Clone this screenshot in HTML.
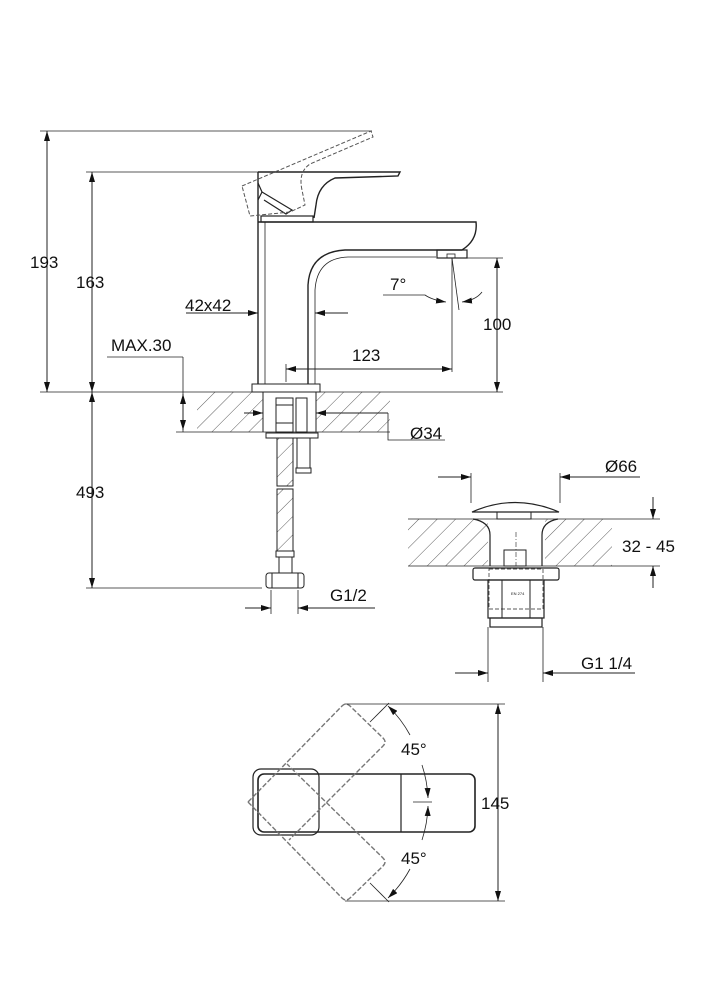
<!DOCTYPE html>
<html><head><meta charset="utf-8"><style>
html,body{margin:0;padding:0;background:#fff;}
svg{display:block;}
text{font-family:"Liberation Sans",sans-serif;font-size:17px;fill:#111;}
</style></head><body>
<svg width="708" height="1000" viewBox="0 0 708 1000" xmlns="http://www.w3.org/2000/svg">
<defs>
<pattern id="h" width="13" height="13" patternUnits="userSpaceOnUse" patternTransform="rotate(45)">
<line x1="0" y1="0" x2="0" y2="13" stroke="#333" stroke-width="0.8"/>
</pattern>
<marker id="a" viewBox="0 0 10 6" refX="10" refY="3" markerWidth="10" markerHeight="6" orient="auto-start-reverse" markerUnits="userSpaceOnUse">
<path d="M0,0 L10,3 L0,6 z" fill="#111"/>
</marker>
</defs>
<g fill="none" stroke="#222" stroke-width="1">
<line x1="40" y1="131" x2="372" y2="131" stroke-width="0.8"/>
<line x1="47" y1="131" x2="47" y2="392" marker-start="url(#a)" marker-end="url(#a)"/>
<line x1="86" y1="172" x2="258" y2="172" stroke-width="0.8"/>
<line x1="92" y1="172" x2="92" y2="392" marker-start="url(#a)" marker-end="url(#a)"/>
<rect x="197" y="392" width="66" height="40" fill="url(#h)" stroke="none"/>
<rect x="316" y="392" width="74" height="40" fill="url(#h)" stroke="none"/>
<line x1="40" y1="392" x2="503" y2="392" stroke-width="0.8"/>
<line x1="176" y1="432" x2="390" y2="432" stroke-width="0.8"/>
<line x1="263" y1="392" x2="263" y2="432"/>
<line x1="316" y1="392" x2="316" y2="432"/>
<rect x="252" y="384" width="68" height="8"/>
<line x1="258" y1="222" x2="258" y2="384" stroke-width="1.4"/>
<line x1="265" y1="222" x2="265" y2="384" stroke-width="0.8"/>
<path d="M258,222 L476,222 Q478,240 462,250 L345,250 Q310,252 308,285 L308,384" stroke-width="1.4"/>
<path d="M315,384 L315,290 Q317,258 348,257 L436,257" stroke-width="0.8"/>
<rect x="437" y="250" width="30" height="8" stroke-width="1.2"/>
<rect x="447" y="254" width="8" height="4" stroke-width="0.8"/>
<path d="M258,172 L258,222 M258,172 L400,172 L398,176 L335,178 Q318,185 316,205 L314,218" stroke-width="1.4"/>
<rect x="261" y="216" width="52" height="6" stroke-width="1.2"/>
<path d="M258,183 L262,192 L258,200 M262,192 L292,210 L286,214 L264,200" stroke-width="1.2"/>
<path d="M242,186 L371,131 L373,137 L310,164 Q298,172 302,190 L305,205 L290,212 L250,216 Z" stroke-dasharray="4,2" stroke="#555"/>
<line x1="452" y1="258" x2="452" y2="372" stroke-width="0.8"/>
<line x1="452" y1="258" x2="459" y2="310" stroke-width="0.8"/>
<path d="M383,295 L425,295 Q432,300 446,302" stroke-width="0.8" marker-end="url(#a)"/>
<path d="M482,292 Q476,300 462,302" stroke-width="0.8" marker-end="url(#a)"/>
<line x1="455" y1="258" x2="503" y2="258" stroke-width="0.8"/>
<line x1="497" y1="258" x2="497" y2="392" marker-start="url(#a)" marker-end="url(#a)"/>
<line x1="186" y1="313" x2="258" y2="313" marker-end="url(#a)"/>
<line x1="348" y1="313" x2="315" y2="313" marker-end="url(#a)"/>
<line x1="286" y1="364" x2="286" y2="382" stroke-width="0.8"/>
<line x1="286" y1="369" x2="452" y2="369" marker-start="url(#a)" marker-end="url(#a)"/>
<line x1="107" y1="357" x2="183" y2="357" stroke-width="0.8"/>
<line x1="183" y1="357" x2="183" y2="432" stroke-width="0.8"/>
<line x1="183" y1="394" x2="183" y2="430" marker-start="url(#a)" marker-end="url(#a)"/>
<line x1="244" y1="413" x2="263" y2="413" marker-end="url(#a)"/>
<line x1="388" y1="413" x2="316" y2="413" marker-end="url(#a)"/>
<path d="M388,413 L388,440 L445,440" stroke-width="0.8"/>
<rect x="276" y="398" width="17" height="34" stroke-width="1"/>
<line x1="276" y1="405" x2="293" y2="405"/><line x1="276" y1="423" x2="293" y2="423"/>
<rect x="296" y="398" width="11" height="34"/>
<rect x="266" y="433" width="52" height="5"/>
<rect x="277" y="438" width="16" height="48" fill="url(#h)"/>
<rect x="277" y="489" width="16" height="62" fill="url(#h)"/>
<rect x="297" y="438" width="13" height="30"/>
<rect x="296" y="468" width="15" height="5"/>
<rect x="276" y="551" width="18" height="6"/>
<rect x="279" y="557" width="13" height="16"/>
<rect x="266" y="573" width="38" height="15" rx="3"/>
<line x1="272" y1="573" x2="272" y2="588"/><line x1="298" y1="573" x2="298" y2="588"/>
<line x1="86" y1="588" x2="262" y2="588" stroke-width="0.8"/>
<line x1="92" y1="392" x2="92" y2="588" marker-start="url(#a)" marker-end="url(#a)"/>
<line x1="271" y1="590" x2="271" y2="614" stroke-width="0.8"/>
<line x1="298" y1="590" x2="298" y2="614" stroke-width="0.8"/>
<line x1="245" y1="608" x2="271" y2="608" marker-end="url(#a)"/>
<line x1="375" y1="608" x2="298" y2="608" marker-end="url(#a)"/>
<rect x="408" y="519" width="80" height="47" fill="url(#h)" stroke="none"/>
<rect x="545" y="519" width="67" height="47" fill="url(#h)" stroke="none"/>
<line x1="408" y1="519" x2="660" y2="519" stroke-width="0.8"/>
<line x1="408" y1="566" x2="660" y2="566" stroke-width="0.8"/>
<line x1="471" y1="473" x2="471" y2="503" stroke-width="0.8"/>
<line x1="560" y1="473" x2="560" y2="503" stroke-width="0.8"/>
<line x1="438" y1="477" x2="471" y2="477" marker-end="url(#a)"/>
<line x1="640" y1="477" x2="560" y2="477" marker-end="url(#a)"/>
<path d="M472,512 Q515,493 559,512 Z" stroke-width="1.2"/>
<rect x="497" y="512" width="34" height="7"/>
<path d="M473,519 Q490,522 490,535 L490,566 M558,519 Q542,522 542,535 L542,566" stroke-width="1.2"/>
<rect x="504" y="550" width="22" height="16"/>
<line x1="516" y1="532" x2="516" y2="566" stroke-dasharray="5,2,1,2" stroke-width="0.6"/>
<rect x="473" y="568" width="86" height="12" rx="2" stroke-width="1.2"/>
<rect x="488" y="580" width="56" height="38" stroke-width="1.2"/>
<rect x="489" y="569" width="54" height="40" stroke-dasharray="4,2" stroke-width="0.7"/>
<line x1="502" y1="580" x2="502" y2="618"/><line x1="530" y1="580" x2="530" y2="618"/>
<rect x="490" y="618" width="52" height="9" stroke-width="1.2"/>
<line x1="653" y1="497" x2="653" y2="519" marker-end="url(#a)"/>
<line x1="653" y1="588" x2="653" y2="566" marker-end="url(#a)"/>
<line x1="488" y1="627" x2="488" y2="682" stroke-width="0.8"/>
<line x1="543" y1="627" x2="543" y2="682" stroke-width="0.8"/>
<line x1="455" y1="673" x2="488" y2="673" marker-end="url(#a)"/>
<line x1="635" y1="673" x2="543" y2="673" marker-end="url(#a)"/>
<rect x="253" y="769" width="66" height="66" rx="8" stroke-width="1.2"/>
<rect x="258" y="774" width="217" height="58" rx="6" stroke-width="1.6"/>
<path d="M401,774 L401,832" stroke-width="1.2"/>
<path d="M248,802 L342,706 Q346,702 350,706 L383,738 Q387,742 383,746 L289,840" stroke-dasharray="5,2" stroke="#777" stroke-width="1.4"/>
<path d="M248,802 L342,898 Q346,902 350,898 L383,866 Q387,862 383,858 L287,764" stroke-dasharray="5,2" stroke="#777" stroke-width="1.4"/>
<line x1="345" y1="704" x2="505" y2="704" stroke-width="0.8"/>
<line x1="345" y1="901" x2="505" y2="901" stroke-width="0.8"/>
<line x1="498" y1="704" x2="498" y2="901" marker-start="url(#a)" marker-end="url(#a)"/>
<line x1="370" y1="722" x2="389" y2="703" stroke-width="0.8"/>
<line x1="370" y1="883" x2="389" y2="902" stroke-width="0.8"/>
<path d="M410,735 A120,120 0 0 0 388,706" stroke-width="0.8" marker-end="url(#a)"/>
<path d="M422,765 A120,120 0 0 1 428,798" stroke-width="0.8" marker-end="url(#a)"/>
<path d="M422,840 A120,120 0 0 0 428,806" stroke-width="0.8" marker-end="url(#a)"/>
<path d="M410,869 A120,120 0 0 1 388,898" stroke-width="0.8" marker-end="url(#a)"/>
<line x1="413" y1="802" x2="432" y2="802" stroke-width="0.8"/>
</g>
<text x="30" y="268">193</text>
<text x="76" y="288">163</text>
<text x="185" y="311">42x42</text>
<text x="390" y="290">7°</text>
<text x="483" y="330">100</text>
<text x="352" y="361">123</text>
<text x="111" y="351">MAX.30</text>
<text x="410" y="439">Ø34</text>
<text x="76" y="498">493</text>
<text x="330" y="601">G1/2</text>
<text x="605" y="472">Ø66</text>
<text x="622" y="552">32 - 45</text>
<text x="581" y="669">G1 1/4</text>
<text x="401" y="755">45°</text>
<text x="401" y="864">45°</text>
<text x="481" y="809">145</text>
<text x="511" y="595" style="font-size:4px">EN 274</text>
</svg>
</body></html>
